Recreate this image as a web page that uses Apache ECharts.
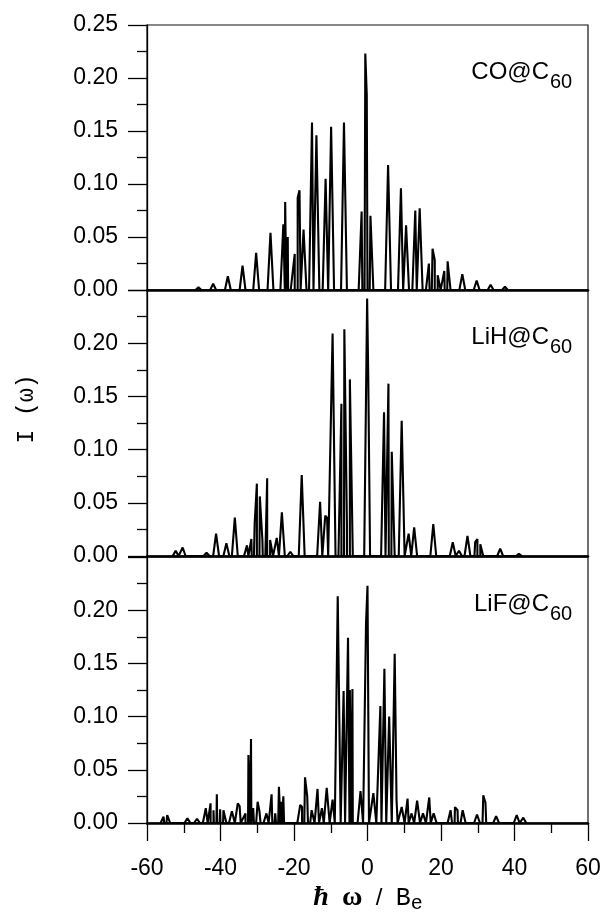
<!DOCTYPE html>
<html><head><meta charset="utf-8">
<script src="https://cdn.jsdelivr.net/npm/echarts@6/dist/echarts.min.js"></script>
<style>html,body{margin:0;padding:0;background:#fff}#c{width:604px;height:915px}</style>
</head><body><div id="c"></div>
<script>
// ---- data ----
const xTickValues = [-60, -40, -20, 0, 20, 40, 60];
const yTickLabels = ['0.00', '0.05', '0.10', '0.15', '0.20', '0.25'];
const panelNames = ['CO@C', 'LiH@C', 'LiF@C'];
const panelSubs = ['60', '60', '60'];

// CO@C60 : peak positions (hbar*omega / B_e) and intensities
const coPos = [-46.0, -42.0, -38.0, -34.0, -30.3, -26.4, -22.9, -22.4, -21.7, -19.8, -19.0, -18.5, -17.4,
  -15.1, -13.9, -11.4, -9.9, -6.4, -1.6, -0.6, -0.2, 0.8, 5.6, 9.1, 10.5, 13.0, 14.2, 16.7, 17.7, 18.3,
  19.1, 20.9, 21.8, 25.8, 29.7, 33.5, 37.4];
const coInt = [0.0025, 0.006, 0.013, 0.023, 0.035, 0.054, 0.062, 0.083, 0.050, 0.034, 0.087, 0.094, 0.057,
  0.158, 0.146, 0.105, 0.154, 0.158, 0.074, 0.223, 0.184, 0.070, 0.118, 0.096, 0.061, 0.075, 0.077, 0.025, 0.039, 0.028,
  0.014, 0.018, 0.027, 0.015, 0.009, 0.005, 0.003];

// LiH@C60
const lihPos = [-52.2, -50.3, -43.8, -41.2, -38.4, -36.1, -32.8, -31.6, -30.7, -30.1, -29.3, -28.6, -27.3, -26.5,
  -24.7, -23.3, -21.0, -17.9, -12.9, -11.5, -11.0, -9.5, -7.1, -6.3, -5.6, -4.8, -0.1, 0.2, 4.5, 5.7, 6.6, 7.0,
  9.3, 11.2, 12.7, 17.9, 23.2, 24.9, 27.2, 29.3, 29.9, 30.7, 36.1, 41.2];
const lihInt = [0.005, 0.008, 0.003, 0.021, 0.012, 0.036, 0.010, 0.016, 0.031, 0.068, 0.056, 0.015, 0.073, 0.015,
  0.017, 0.041, 0.004, 0.076, 0.051, 0.038, 0.036, 0.209, 0.143, 0.213, 0.030, 0.166, 0.242, 0.170, 0.135, 0.162, 0.098, 0.097,
  0.127, 0.021, 0.027, 0.030, 0.013, 0.005, 0.019, 0.013, 0.016, 0.011, 0.007, 0.002];

// LiF@C60
const lifPos = [-55.5, -54.5, -49.0, -46.4, -44.0, -42.7, -41.9, -41.0, -40.1, -39.2, -36.9, -35.3, -34.8, -33.2,
  -32.4, -31.7, -31.1, -29.9, -29.4, -27.5, -26.1, -25.1, -24.1, -23.5, -22.9, -18.3, -17.8, -17.0, -16.4, -15.2,
  -13.6, -12.4, -11.1, -9.5, -8.1, -6.5, -5.3, -4.8, -4.1, -1.9, -0.4, 0.0, 1.6, 3.5, 4.6, 5.9, 7.4, 7.9, 9.3,
  10.9, 12.0, 13.5, 15.1, 16.8, 18.0, 22.6, 23.8, 24.5, 25.9, 29.8, 31.5, 32.1, 35.0, 40.6, 42.4];
const lifInt = [0.006, 0.0075, 0.0045, 0.004, 0.014, 0.0185, 0.012, 0.027, 0.013, 0.012, 0.011, 0.0185, 0.016, 0.009,
  0.064, 0.079, 0.014, 0.020, 0.011, 0.009, 0.027, 0.009, 0.034, 0.020, 0.025, 0.017, 0.015, 0.043, 0.025, 0.012,
  0.032, 0.014, 0.033, 0.022, 0.213, 0.124, 0.174, 0.125, 0.126, 0.030, 0.188, 0.223, 0.028, 0.110, 0.145, 0.100, 0.159, 0.022, 0.015,
  0.023, 0.009, 0.021, 0.009, 0.024, 0.009, 0.012, 0.015, 0.012, 0.012, 0.008, 0.026, 0.019, 0.0065, 0.0075, 0.005];

// ---- build line tables from the peak lists ----
const HALF = 0.8;
function buildLine(pos, inten) {
  const pts = [];
  for (let i = 0; i < pos.length; i++) {
    pts.push([pos[i] - HALF, 0], [pos[i], inten[i]], [pos[i] + HALF, 0]);
  }
  pts.sort((a, b) => a[0] - b[0]);
  return pts;
}
const spectra = [buildLine(coPos, coInt), buildLine(lihPos, lihInt), buildLine(lifPos, lifInt)];

const FONT = 'Liberation Sans, Arial, sans-serif';
const grids = [
  { left: 147, width: 441, top: 25, height: 265 },
  { left: 147, width: 441, top: 290, height: 266 },
  { left: 147, width: 441, top: 557, height: 266 }
];

const chart = echarts.init(document.getElementById('c'), null, { renderer: 'canvas' });
const option = {
  backgroundColor: '#fff',
  animation: false,
  grid: grids.map(g => Object.assign({ show: true, borderColor: '#111', borderWidth: 1.2, backgroundColor: 'transparent' }, g)),
  xAxis: grids.map((g, i) => ({
    type: 'value', gridIndex: i, min: xTickValues[0], max: xTickValues[xTickValues.length - 1], interval: 20,
    axisLine: { show: true, onZero: false, lineStyle: { color: '#000', width: 2.5 } },
    axisTick: { show: i === 2, length: 18, lineStyle: { color: '#000', width: 1.3 } },
    minorTick: { show: i === 2, splitNumber: 2, length: 10, lineStyle: { color: '#000', width: 1.3 } },
    axisLabel: { show: i === 2, fontSize: 23, fontFamily: FONT, color: '#000', margin: 34 },
    splitLine: { show: false }
  })),
  yAxis: grids.map((g, i) => ({
    type: 'value', gridIndex: i, min: 0, max: 0.25, interval: 0.05,
    axisLine: { show: true, onZero: false, lineStyle: { color: '#000', width: 1.3 } },
    axisTick: { show: true, length: 19, lineStyle: { color: '#000', width: 1.3 } },
    minorTick: { show: true, splitNumber: 2, length: 10, lineStyle: { color: '#000', width: 1.3 } },
    axisLabel: {
      fontSize: 23, fontFamily: FONT, color: '#000', margin: 29,
      formatter: (v) => {
        const k = Math.round(v / 0.05);
        if (i > 0 && k === 5) return '';
        return yTickLabels[k];
      }
    },
    splitLine: { show: false }
  })),
  series: spectra.map((d, i) => ({
    type: 'line', xAxisIndex: i, yAxisIndex: i, data: d, showSymbol: false, symbol: 'none',
    lineStyle: { color: '#000', width: 2.1 }, clip: true
  })),
  graphic: [
    ...grids.map((g, i) => ({
      type: 'text', x: 549, y: g.top + 47,
      style: { text: panelNames[i], font: '24px ' + FONT, fill: '#000', align: 'right', verticalAlign: 'middle' }
    })),
    ...grids.map((g, i) => ({
      type: 'text', x: 550, y: g.top + 57,
      style: { text: panelSubs[i], font: '20px ' + FONT, fill: '#000', align: 'left', verticalAlign: 'middle' }
    })),
    {
      type: 'text', x: 27, y: 409, rotation: Math.PI / 2,
      style: { text: 'I (ω)', font: '23px Liberation Mono, monospace', fill: '#000', align: 'center', verticalAlign: 'middle' }
    },
    {
      type: 'text', x: 368, y: 898,
      style: {
        text: '{h|ħ}    {w|ω}    {s|/}    {b|B}{e|e}', align: 'center', verticalAlign: 'middle',
        rich: {
          h: { font: 'italic bold 28px Liberation Serif, serif', fill: '#000' },
          w: { font: 'bold 28px Liberation Serif, serif', fill: '#000' },
          s: { font: '24px Liberation Sans, sans-serif', fill: '#000' },
          b: { font: '25px Liberation Mono, monospace', fill: '#000' },
          e: { font: '20px Liberation Mono, monospace', fill: '#000', padding: [12, 0, 0, 0] }
        }
      }
    }
  ]
};
chart.setOption(option);
</script>
</body></html>
